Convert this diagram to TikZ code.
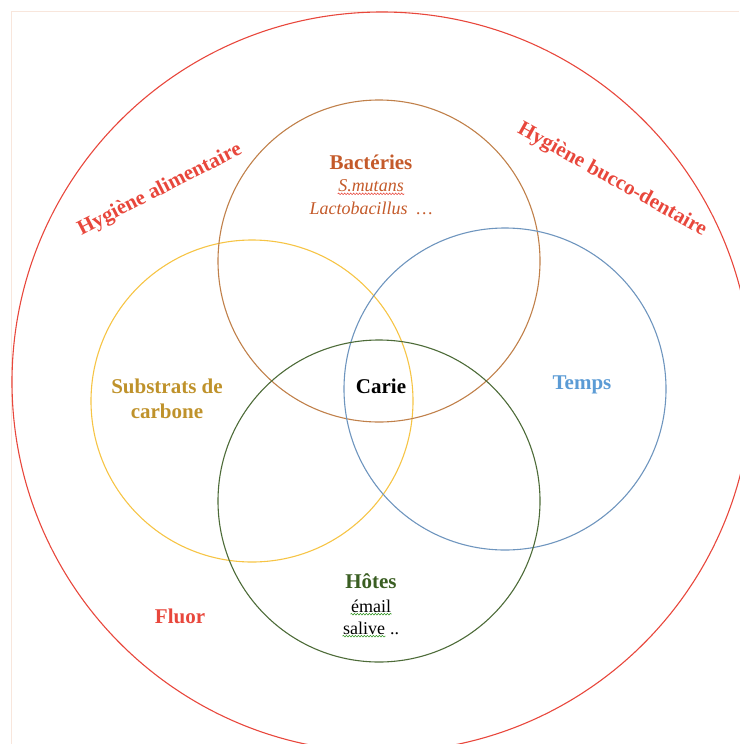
\documentclass[tikz,border=0pt]{standalone}
\usepackage{fontspec}
\setmainfont{Liberation Serif}
\usetikzlibrary{positioning,decorations.pathmorphing}

\definecolor{rouge}{HTML}{E8473C}
\definecolor{brunc}{HTML}{C0804A}
\definecolor{brunt}{HTML}{C45A2A}
\definecolor{jaunec}{HTML}{F6C445}
\definecolor{jaunet}{HTML}{BF922B}
\definecolor{bleuc}{HTML}{6E95BE}
\definecolor{bleut}{HTML}{5B9BD5}
\definecolor{vertc}{HTML}{4D6B38}
\definecolor{vertt}{HTML}{3A5E22}
\definecolor{cadre}{HTML}{F8E6DC}

\tikzset{
  titre/.style={font=\fontsize{21}{24}\selectfont\bfseries, inner sep=0pt},
  sous/.style={font=\fontsize{18}{21}\selectfont, inner sep=0pt},
  vague/.style={decorate, decoration={snake, amplitude=0.8pt, segment length=3pt}, line width=0.6pt}
}

\begin{document}
\begin{tikzpicture}[x=1pt,y=-1pt,line width=1.1pt,node distance=22pt]
\useasboundingbox (0,0) rectangle (739,744);
\draw[cadre,line width=0.8pt] (11,744) -- (11,11) -- (739,11);

% cercles
\draw[rouge] (382,382) circle (370pt);
\draw[jaunec] (252,401) circle (161pt);
\draw[brunc] (379,261) circle (161pt);
\draw[bleuc] (505,389) circle (161pt);
\draw[vertc] (379,501) circle (161pt);

% textes
\node(bact)[titre,brunt] at (371,162) {Bactéries};
\node(smut)[sous,brunt,font=\fontsize{18}{21}\selectfont\itshape,below of=bact,yshift=-2pt] {S.mutans};
\node(lacto)[sous,brunt,font=\fontsize{18}{21}\selectfont\itshape,below of=smut] {Lactobacillus\ \ …};
\draw[vague,rouge] ([yshift=-2pt]smut.base west) -- ([yshift=-2pt]smut.base east);

\node(subs)[titre,jaunet,align=center,font=\fontsize{21}{25}\selectfont\bfseries] at (167,399) {Substrats de\\carbone};
\node(carie)[titre,black] at (381,386) {Carie};
\node(temps)[titre,bleut] at (582,385) {Temps};

\node(hote)[titre,vertt] at (371,581) {Hôtes};
\node(email)[sous,below of=hote,yshift=-3pt] {émail};
\node(sal)[sous,below of=email,xshift=-7pt] {salive};
\node(pts)[sous,anchor=base west,xshift=4pt] at (sal.base east) {..};
\draw[vague,vertc!70!green] ([yshift=-2pt]email.base west) -- ([yshift=-2pt]email.base east);
\draw[vague,vertc!70!green] ([yshift=-2pt]sal.base west) -- ([yshift=-2pt]sal.base east);

\node(fluor)[titre,rouge] at (180,616) {Fluor};
\node(alim)[titre,rouge,rotate=27] at (160,190) {Hygiène alimentaire};
\node(bucco)[titre,rouge,rotate=-29] at (612,180) {Hygiène bucco-dentaire};
\end{tikzpicture}
\end{document}
